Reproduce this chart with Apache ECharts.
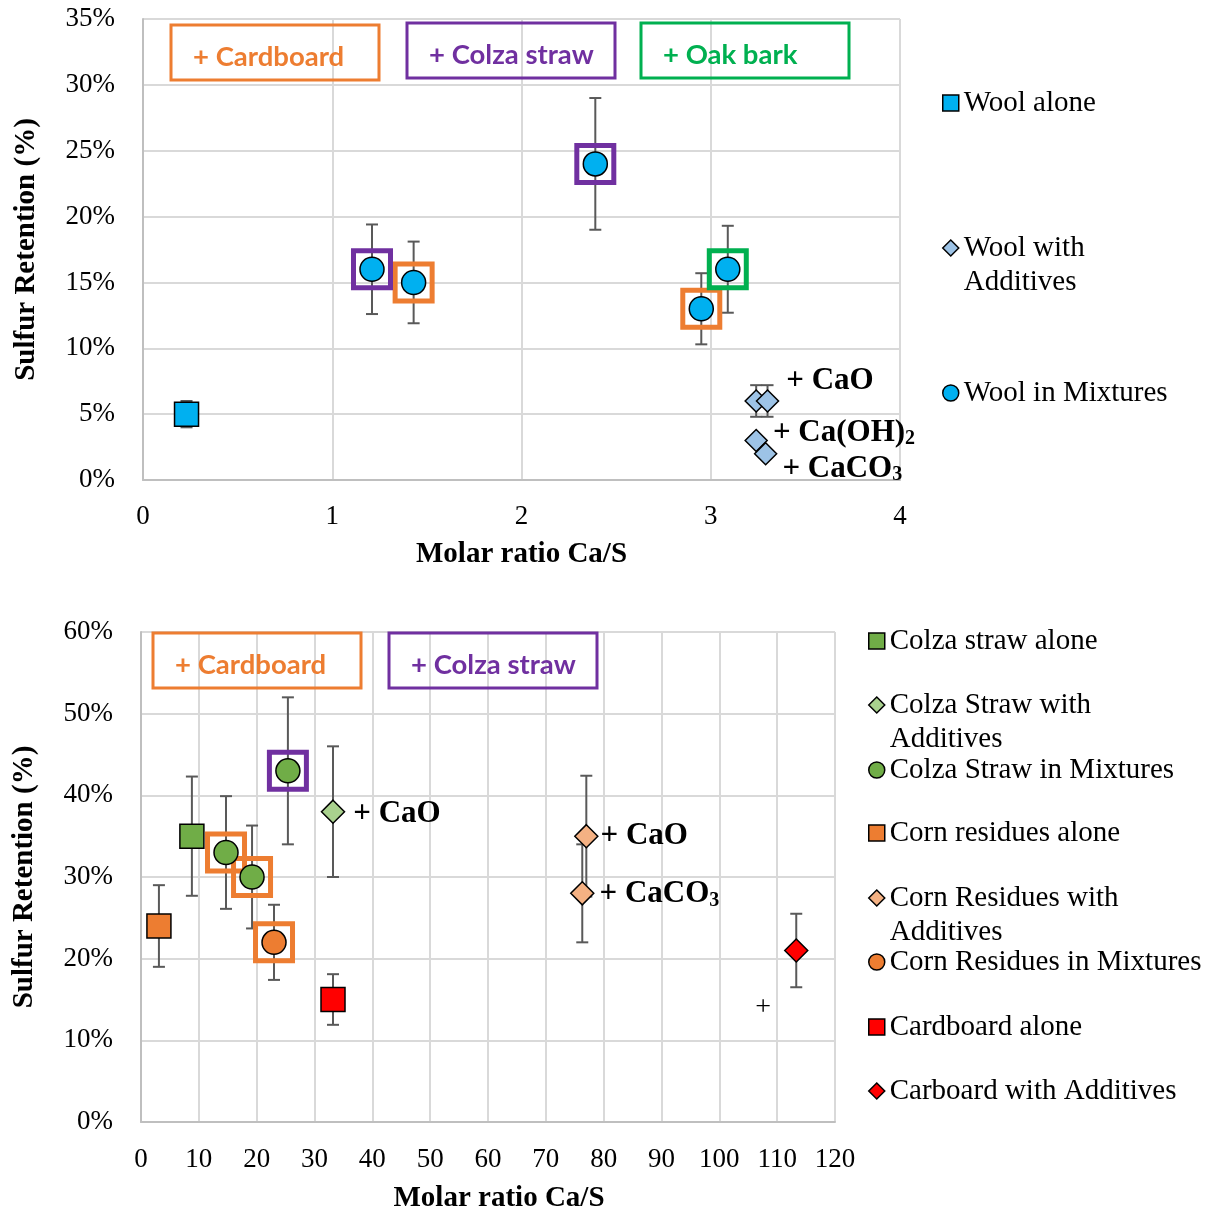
<!DOCTYPE html>
<html><head><meta charset="utf-8">
<script src="https://cdn.jsdelivr.net/npm/echarts@6/dist/echarts.min.js"></script>
<style>html,body{margin:0;padding:0;background:#fff}#c{width:1215px;height:1214px}</style>
</head><body><div id="c"></div>
<script>
// ===== Top chart: wool (values in %) =====
const woolAloneX = [0.23], woolAloneY = [5], woolAloneErr = [1];
const woolAddX = [3.24, 3.30, 3.24, 3.29], woolAddY = [6, 6, 3, 2], woolAddErr = [1.2, 1.2, 0, 0];
const woolAddLabels = ['', '+ CaO', '+ Ca(OH){s|2}', '+ CaCO{s|3}'];
const woolMixX = [1.21, 1.43, 2.39, 2.95, 3.09], woolMixY = [16, 15, 24, 13, 16], woolMixErr = [3.4, 3.1, 5, 2.7, 3.3];
const woolMixPartner = ['colza', 'cardboard', 'colza', 'cardboard', 'oak'];
const topXTicks = [0, 1, 2, 3, 4];
const topYTicks = [0, 5, 10, 15, 20, 25, 30, 35];

// ===== Bottom chart: colza straw, corn residues, cardboard (values in %) =====
const colzaAloneX = [8.8], colzaAloneY = [35], colzaAloneErr = [7.3];
const colzaAddX = [33.2], colzaAddY = [38], colzaAddErr = [8], colzaAddLabels = ['+ CaO'];
const colzaMixX = [14.7, 19.2, 25.4], colzaMixY = [33, 30, 43], colzaMixErr = [6.9, 6.3, 9];
const colzaMixPartner = ['cardboard', 'cardboard', 'colza'];
const cornAloneX = [3.1], cornAloneY = [24], cornAloneErr = [5];
const cornAddX = [77.0, 76.3], cornAddY = [35, 28], cornAddErr = [7.4, 6], cornAddLabels = ['+ CaO', '+ CaCO{s|3}'];
const cornMixX = [23.0], cornMixY = [22], cornMixErr = [4.6], cornMixPartner = ['cardboard'];
const cardAloneX = [33.2], cardAloneY = [15], cardAloneErr = [3.1];
const cardAddX = [113.3], cardAddY = [21], cardAddErr = [4.5], cardAddLabels = ['+'];
const botXTicks = [0, 10, 20, 30, 40, 50, 60, 70, 80, 90, 100, 110, 120];
const botYTicks = [0, 10, 20, 30, 40, 50, 60];

const partnerText = {cardboard: '+ Cardboard', colza: '+ Colza straw', oak: '+ Oak bark'};
const topPartners = ['cardboard', 'colza', 'oak'];
const botPartners = ['cardboard', 'colza'];

// ===== styles =====
const serif = "'Liberation Serif','Times New Roman',serif";
const sans = "Lato,'Open Sans',sans-serif";
const partnerColor = {cardboard: '#ED7D31', colza: '#7030A0', oak: '#00B050'};
const C = {
  wool: '#00B0F0', woolAdd: '#9DC3E6',
  colza: '#70AD47', colzaAdd: '#A9D18E',
  corn: '#ED7D31', cornAdd: '#F4B183',
  card: '#FF0000'
};
const labelBase = {fontFamily: serif, fontWeight: 'bold', fontSize: 31, color: '#000',
  rich: {s: {fontFamily: serif, fontWeight: 'bold', fontSize: 20, color: '#000', padding: [12, 0, 0, 0]}}};
const labelPos = {
  woolAdd: [null, {offset: [2, -20]}, {offset: [0, -8]}, {offset: [0, 15]}],
  colzaAdd: [{offset: [3, 2]}],
  cornAdd: [{offset: [-3, 0]}, {offset: [0, 1]}],
  cardAdd: [{position: 'inside', offset: [-33, 57], fontWeight: 'normal', fontSize: 28}]
};

function pts(name, xs, ys, gi, symbol, size, color, labels, lp) {
  return {
    type: 'scatter', name, xAxisIndex: gi, yAxisIndex: gi, symbol, symbolSize: size, z: 5,
    itemStyle: {color, borderColor: '#000', borderWidth: 1.5, opacity: 1},
    emphasis: {disabled: true},
    data: xs.map((x, i) => {
      const d = {value: [x, ys[i]]};
      if (labels && labels[i]) {
        d.label = Object.assign({show: true, position: 'right', distance: 5, formatter: labels[i]}, labelBase, lp[i] || {});
      }
      return d;
    })
  };
}
function errs(gi, groups) {
  const data = [];
  groups.forEach(g => g[0].forEach((x, i) => { if (g[2][i] > 0) data.push([x, g[1][i], g[2][i]]); }));
  return {
    type: 'custom', xAxisIndex: gi, yAxisIndex: gi, z: 2, silent: true,
    encode: {x: 0, y: 1},
    renderItem: (params, api) => {
      const x = api.value(0), y = api.value(1), e = api.value(2);
      const t = api.coord([x, y + e]), b = api.coord([x, y - e]);
      const st = {stroke: '#595959', lineWidth: 2};
      return {type: 'group', children: [
        {type: 'line', shape: {x1: t[0], y1: t[1], x2: b[0], y2: b[1]}, style: st},
        {type: 'line', shape: {x1: t[0] - 6, y1: t[1], x2: t[0] + 6, y2: t[1]}, style: st},
        {type: 'line', shape: {x1: b[0] - 6, y1: b[1], x2: b[0] + 6, y2: b[1]}, style: st}
      ]};
    },
    data
  };
}
function boxes(gi, sets, partner) {
  const data = [];
  sets.forEach(s => s[0].forEach((x, i) => { if (s[2][i] === partner) data.push([x, s[1][i]]); }));
  return {
    type: 'scatter', xAxisIndex: gi, yAxisIndex: gi, symbol: 'rect', symbolSize: 37, z: 3, silent: true,
    itemStyle: {color: 'rgba(0,0,0,0)', borderColor: partnerColor[partner], borderWidth: 5, opacity: 1},
    emphasis: {disabled: true},
    data
  };
}
function axisX(gi, ticks, margin, gap, namePad) {
  return {
    gridIndex: gi, type: 'value', min: ticks[0], max: ticks[ticks.length - 1], interval: ticks[1] - ticks[0],
    axisLine: {show: true, onZero: false, lineStyle: {color: '#bfbfbf', width: 2}},
    axisTick: {show: false},
    splitLine: {show: true, lineStyle: {color: '#d9d9d9', width: 2}},
    axisLabel: {fontFamily: serif, fontSize: 27, color: '#000', margin},
    name: 'Molar ratio Ca/S', nameLocation: 'middle', nameGap: gap,
    nameTextStyle: {fontFamily: serif, fontWeight: 'bold', fontSize: 29, color: '#000', padding: namePad}
  };
}
function axisY(gi, ticks) {
  return {
    gridIndex: gi, type: 'value', min: ticks[0], max: ticks[ticks.length - 1], interval: ticks[1] - ticks[0],
    axisLine: {show: true, onZero: false, lineStyle: {color: '#bfbfbf', width: 2}},
    axisTick: {show: false},
    splitLine: {show: true, lineStyle: {color: '#d9d9d9', width: 2}},
    axisLabel: {fontFamily: serif, fontSize: 27, color: '#000', margin: 28, formatter: v => Math.round(v) + '%'},
    name: 'Sulfur Retention (%)', nameLocation: 'middle', nameGap: 102,
    nameTextStyle: {fontFamily: serif, fontWeight: 'bold', fontSize: 29, color: '#000'}
  };
}
const L = 34;
function leg(name, label, icon, color, x, y, two) {
  return {
    show: true, left: x, top: two ? y - 1.5 * L : y - L / 2, padding: 0, orient: 'vertical',
    itemWidth: 16, itemHeight: 16, selectedMode: false,
    formatter: () => (two ? ' \n' : '') + label,
    textStyle: {fontFamily: serif, fontSize: 29, color: '#000', lineHeight: L},
    data: [{name, icon, itemStyle: {color, borderColor: '#000', borderWidth: 1.5}}]
  };
}
function boxGraphic(x, y, partner) {
  return [
    {type: 'rect', shape: {x, y, width: 208, height: 55}, style: {fill: 'none', stroke: partnerColor[partner], lineWidth: 3}, z: 10},
    {type: 'text', x: x + 22, y: y + 32, style: {text: partnerText[partner], font: 'bold 27.5px ' + sans, fill: partnerColor[partner], verticalAlign: 'middle'}, z: 10}
  ];
}

const option = {
  backgroundColor: '#fff',
  animation: false,
  grid: [
    {left: 143, top: 19, width: 757, height: 461},
    {left: 141, top: 632, width: 694, height: 490}
  ],
  xAxis: [axisX(0, topXTicks, 23, 60, 0), axisX(1, botXTicks, 24, 62, [0, 0, 0, 22])],
  yAxis: [axisY(0, topYTicks), axisY(1, botYTicks)],
  legend: [
    leg('Wool alone', 'Wool alone', 'rect', C.wool, 942, 103, false),
    leg('Wool with Additives', 'Wool with\nAdditives', 'diamond', C.woolAdd, 942, 248, true),
    leg('Wool in Mixtures', 'Wool in Mixtures', 'circle', C.wool, 942, 393, false),
    leg('Colza straw alone', 'Colza straw alone', 'rect', C.colza, 868, 641, false),
    leg('Colza Straw with Additives', 'Colza Straw with\nAdditives', 'diamond', C.colzaAdd, 868, 705, true),
    leg('Colza Straw in Mixtures', 'Colza Straw in Mixtures', 'circle', C.colza, 868, 770, false),
    leg('Corn residues alone', 'Corn residues alone', 'rect', C.corn, 868, 833, false),
    leg('Corn Residues with Additives', 'Corn Residues with\nAdditives', 'diamond', C.cornAdd, 868, 898, true),
    leg('Corn Residues in Mixtures', 'Corn Residues in Mixtures', 'circle', C.corn, 868, 962, false),
    leg('Cardboard alone', 'Cardboard alone', 'rect', C.card, 868, 1027, false),
    leg('Carboard with Additives', 'Carboard with Additives', 'diamond', C.card, 868, 1091, false)
  ],
  graphic: [].concat(
    boxGraphic(171, 25, 'cardboard'), boxGraphic(407, 23, 'colza'), boxGraphic(641, 23, 'oak'),
    boxGraphic(153, 633, 'cardboard'), boxGraphic(389, 633, 'colza')
  ),
  series: [
    errs(0, [[woolAloneX, woolAloneY, woolAloneErr], [woolAddX, woolAddY, woolAddErr], [woolMixX, woolMixY, woolMixErr]]),
    errs(1, [[colzaAloneX, colzaAloneY, colzaAloneErr], [colzaAddX, colzaAddY, colzaAddErr], [colzaMixX, colzaMixY, colzaMixErr],
             [cornAloneX, cornAloneY, cornAloneErr], [cornAddX, cornAddY, cornAddErr], [cornMixX, cornMixY, cornMixErr],
             [cardAloneX, cardAloneY, cardAloneErr], [cardAddX, cardAddY, cardAddErr]]),
    ...topPartners.map(p => boxes(0, [[woolMixX, woolMixY, woolMixPartner]], p)),
    ...botPartners.map(p => boxes(1, [[colzaMixX, colzaMixY, colzaMixPartner], [cornMixX, cornMixY, cornMixPartner]], p)),
    pts('Wool alone', woolAloneX, woolAloneY, 0, 'rect', 24, C.wool),
    pts('Wool with Additives', woolAddX, woolAddY, 0, 'diamond', 22, C.woolAdd, woolAddLabels, labelPos.woolAdd),
    pts('Wool in Mixtures', woolMixX, woolMixY, 0, 'circle', 24, C.wool),
    pts('Colza straw alone', colzaAloneX, colzaAloneY, 1, 'rect', 24, C.colza),
    pts('Colza Straw with Additives', colzaAddX, colzaAddY, 1, 'diamond', 23, C.colzaAdd, colzaAddLabels, labelPos.colzaAdd),
    pts('Colza Straw in Mixtures', colzaMixX, colzaMixY, 1, 'circle', 24, C.colza),
    pts('Corn residues alone', cornAloneX, cornAloneY, 1, 'rect', 24, C.corn),
    pts('Corn Residues with Additives', cornAddX, cornAddY, 1, 'diamond', 23, C.cornAdd, cornAddLabels, labelPos.cornAdd),
    pts('Corn Residues in Mixtures', cornMixX, cornMixY, 1, 'circle', 24, C.corn),
    pts('Cardboard alone', cardAloneX, cardAloneY, 1, 'rect', 24, C.card),
    pts('Carboard with Additives', cardAddX, cardAddY, 1, 'diamond', 23, C.card, cardAddLabels, labelPos.cardAdd)
  ]
};
const chart = echarts.init(document.getElementById('c'), null, {renderer: 'canvas'});
chart.setOption(option);
</script>
</body></html>
